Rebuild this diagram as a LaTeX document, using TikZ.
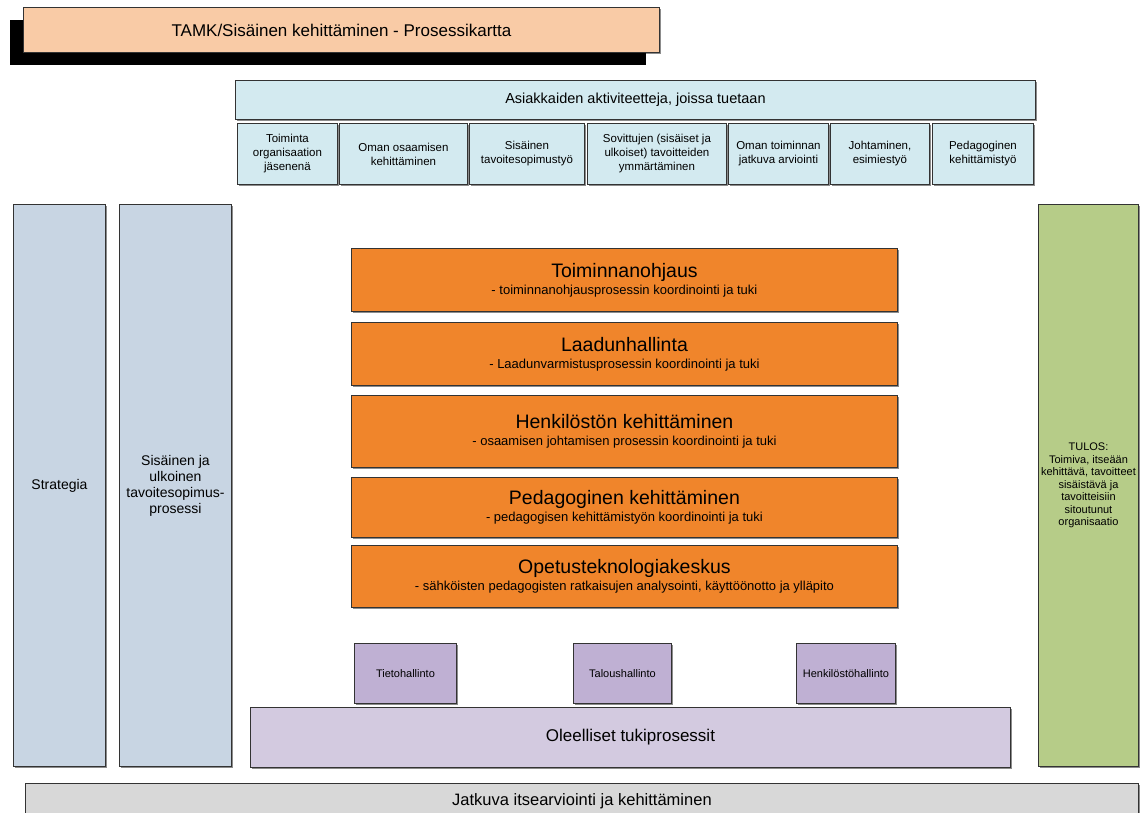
\documentclass[tikz,border=0pt]{standalone}
\usepackage{fontspec}
\setmainfont{Liberation Sans}
\usetikzlibrary{shadows}

\definecolor{peach}{RGB}{249,203,166}
\definecolor{aqua}{RGB}{211,234,240}
\definecolor{steel}{RGB}{200,213,227}
\definecolor{tamkorange}{RGB}{240,133,43}
\definecolor{lilac}{RGB}{191,176,211}
\definecolor{palelilac}{RGB}{211,202,224}
\definecolor{olive}{RGB}{182,204,136}
\definecolor{lightgray}{RGB}{216,216,216}

\begin{document}
\begin{tikzpicture}[x=1pt,y=-1pt,
        box/.style={draw=black!80,line width=0.9pt,anchor=north west,align=center,inner sep=2pt,
          drop shadow={shadow xshift=1.2pt,shadow yshift=-1.2pt,fill=black!45,opacity=1}},
        titlebox/.style={box,fill=peach,font=\fontsize{17}{19}\selectfont,
          drop shadow={shadow xshift=-13pt,shadow yshift=-13pt,fill=black,opacity=1}},
        activity/.style={box,fill=aqua,minimum height=61,font=\fontsize{11.5}{14}\selectfont},
        side/.style={box,fill=steel,minimum height=562,font=\fontsize{14}{16}\selectfont},
        unit/.style={box,fill=tamkorange,minimum width=546,font=\fontsize{13}{15}\selectfont},
        support/.style={box,fill=lilac,minimum height=60,font=\fontsize{11}{13}\selectfont}]

  \useasboundingbox (0,0) rectangle (1141,813);

  \node[titlebox,minimum width=636,minimum height=45] (title) at (23,7)
    {TAMK/Sisäinen kehittäminen - Prosessikartta};

  \node[box,fill=aqua,minimum width=800,minimum height=39,font=\fontsize{14.5}{17}\selectfont]
    (asiakas) at (235,80) {Asiakkaiden aktiviteetteja, joissa tuetaan};
  \node[activity,minimum width=100] (a1) at (237,123) {Toiminta\\organisaation\\jäsenenä};
  \node[activity,minimum width=128] (a2) at (339,123) {Oman osaamisen\\kehittäminen};
  \node[activity,minimum width=115] (a3) at (469,123) {Sisäinen\\tavoitesopimustyö};
  \node[activity,minimum width=139] (a4) at (587,123) {Sovittujen (sisäiset ja\\ulkoiset) tavoitteiden\\ymmärtäminen};
  \node[activity,minimum width=100] (a5) at (728,123) {Oman toiminnan\\jatkuva arviointi};
  \node[activity,minimum width=99] (a6) at (830,123) {Johtaminen,\\esimiestyö};
  \node[activity,minimum width=101] (a7) at (932,123) {Pedagoginen\\kehittämistyö};

  \node[side,minimum width=92] (strategia) at (13,204) {Strategia};
  \node[side,minimum width=112] (sopimus) at (119,204) {Sisäinen ja\\ulkoinen\\tavoitesopimus-\\prosessi};
  \node[side,fill=olive,minimum width=100,font=\fontsize{11}{12.5}\selectfont] (tulos) at (1038,204)
    {TULOS:\\Toimiva, itseään\\kehittävä, tavoitteet\\sisäistävä ja\\tavoitteisiin\\sitoutunut\\organisaatio};

  \node[unit,minimum height=63] (ohjaus) at (351,248)
    {{\fontsize{19.5}{23}\selectfont Toiminnanohjaus}\\[2pt]- toiminnanohjausprosessin koordinointi ja tuki};
  \node[unit,minimum height=63] (laatu) at (351,322)
    {{\fontsize{19.5}{23}\selectfont Laadunhallinta}\\[2pt]- Laadunvarmistusprosessin koordinointi ja tuki};
  \node[unit,minimum height=72] (henkilosto) at (351,395)
    {{\fontsize{19.5}{23}\selectfont Henkilöstön kehittäminen}\\[2pt]- osaamisen johtamisen prosessin koordinointi ja tuki};
  \node[unit,minimum height=60] (pedagogiikka) at (351,477)
    {{\fontsize{19.5}{23}\selectfont Pedagoginen kehittäminen}\\[2pt]- pedagogisen kehittämistyön koordinointi ja tuki};
  \node[unit,minimum height=62] (opetustek) at (351,545)
    {{\fontsize{19.5}{23}\selectfont Opetusteknologiakeskus}\\[2pt]- sähköisten pedagogisten ratkaisujen analysointi, käyttöönotto ja ylläpito};

  \node[support,minimum width=102] (tieto) at (354,643) {Tietohallinto};
  \node[support,minimum width=98] (talous) at (573,643) {Taloushallinto};
  \node[support,minimum width=99] (hallinto) at (796,643) {Henkilöstöhallinto};
  \node[box,fill=palelilac,minimum width=760,minimum height=60,font=\fontsize{17}{20}\selectfont]
    (tuki) at (250,707) {Oleelliset tukiprosessit};

  \node[box,fill=lightgray,minimum width=1113,minimum height=36,font=\fontsize{16.5}{19}\selectfont]
    (jatkuva) at (25,783) {Jatkuva itsearviointi ja kehittäminen};

\end{tikzpicture}
\end{document}
